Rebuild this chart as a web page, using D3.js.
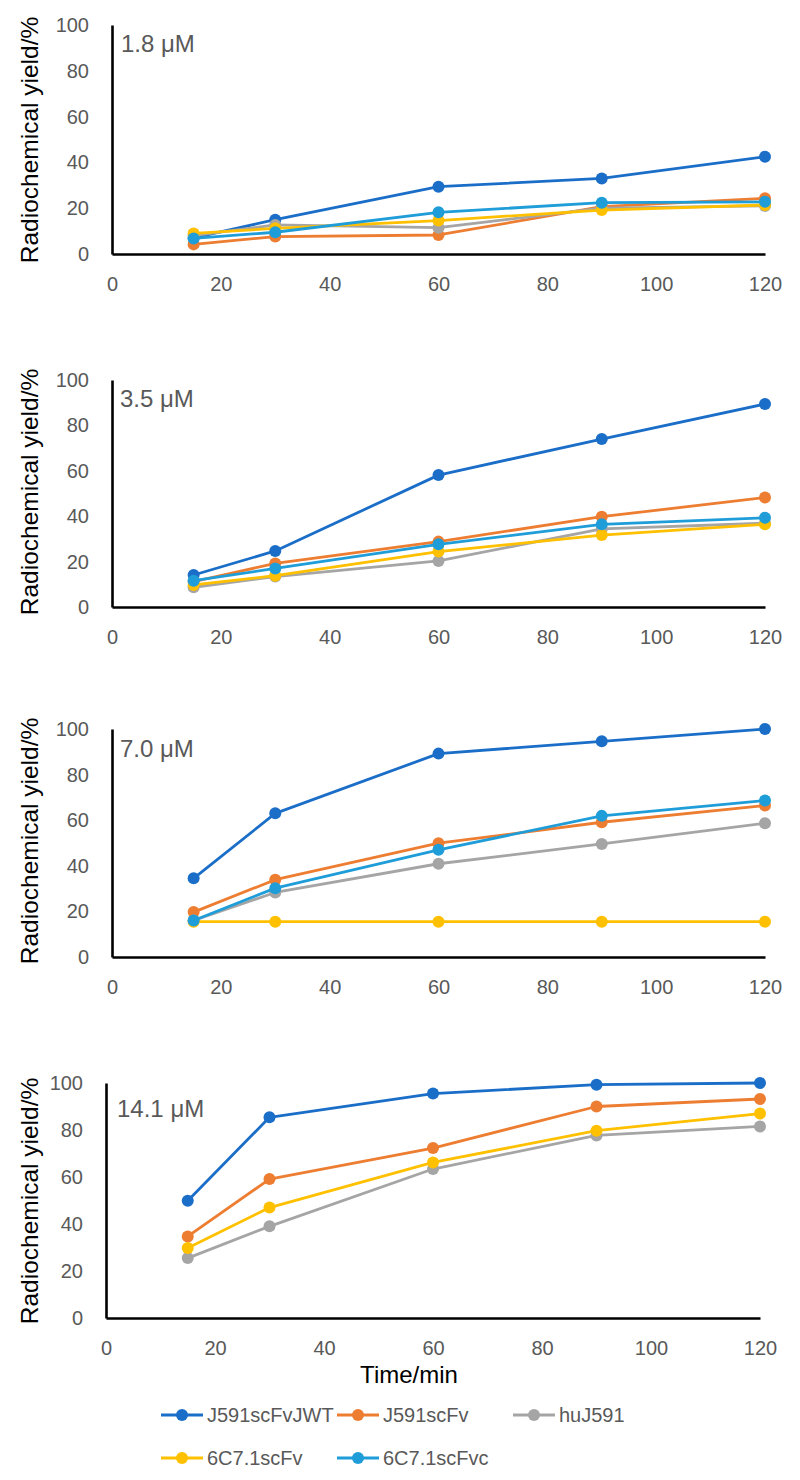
<!DOCTYPE html>
<html>
<head>
<meta charset="utf-8">
<script src="https://cdn.jsdelivr.net/npm/d3@7"></script>
<style>
  html, body { margin: 0; padding: 0; background: #fff; }
  svg { display: block; font-family: "Liberation Sans", Arial, sans-serif; }
</style>
</head>
<body>
<svg id="chart" width="800" height="1480"></svg>
<script>
// ---------- data ----------
const times = [15, 30, 60, 90, 120];
const concentrations = ["1.8 μM", "3.5 μM", "7.0 μM", "14.1 μM"];
const seriesNames = ["J591scFvJWT", "J591scFv", "huJ591", "6C7.1scFv", "6C7.1scFvc"];
const xTicks = [0, 20, 40, 60, 80, 100, 120];
const yTicks = [0, 20, 40, 60, 80, 100];
const xAxisTitle = "Time/min";
const yAxisTitle = "Radiochemical yield/%";

// one row per concentration panel (values at times above)
const J591scFvJWT = [
  [7, 15, 29.4, 33, 42.5],
  [14.1, 24.7, 58.1, 74, 89.4],
  [34.5, 63, 89.2, 94.6, 100],
  [49.9, 85.4, 95.5, 99.3, 100]
];
const J591scFv = [
  [4.2, 7.6, 8.3, 20.7, 24.3],
  [11.2, 19.2, 28.8, 39.8, 48.2],
  [19.7, 33.9, 49.9, 59.1, 66.4],
  [34.7, 59.1, 72.3, 90, 93.2]
];
const huJ591 = [
  [8, 12.7, 11.5, 20, 21],
  [8.7, 13.4, 20.3, 34.4, 36.9],
  [16, 28.3, 40.9, 49.6, 58.7],
  [25.5, 39, 63.4, 77.7, 81.5]
];
const scFv6C71 = [
  [9, 11.2, 14.6, 19.2, 21.4],
  [9.7, 13.8, 24.4, 31.7, 36.4],
  [15.5, 15.5, 15.5, 15.5, 15.5],
  [29.8, 47, 66.2, 79.7, 87]
];
const scFvc6C71 = [
  [6.8, 9.5, 18.2, 22.4, 22.8],
  [11.6, 17, 27.6, 36.4, 39.3],
  [16, 30.2, 47, 61.9, 68.6],
  null
];

// ---------- styles ----------
const seriesColors = ["#1B6EC8", "#ED7D31", "#A5A5A5", "#FFC000", "#1F9DD9"];
const seriesData = [J591scFvJWT, J591scFv, huJ591, scFv6C71, scFvc6C71];

// panel layout
const panels = [
  { top: 25,   bottom: 254,  left: 112, right: 765, lx: 121, ly: 52,   ycy: 140 },
  { top: 380,  bottom: 607,  left: 112, right: 765, lx: 120, ly: 407,  ycy: 492 },
  { top: 729,  bottom: 957,  left: 112, right: 765, lx: 120, ly: 757,  ycy: 841 },
  { top: 1083, bottom: 1318, left: 106, right: 760, lx: 117, ly: 1117, ycy: 1201 }
];

const svg = d3.select("#chart");
const tickColor = "#595959";

panels.forEach((p, pi) => {
  const x = d3.scaleLinear().domain([0, 120]).range([p.left, p.right]);
  const y = d3.scaleLinear().domain([0, 100]).range([p.bottom, p.top]);
  const g = svg.append("g");

  // y axis
  const ya = g.append("g")
    .attr("transform", `translate(${p.left},0)`)
    .call(d3.axisLeft(y).tickValues(yTicks).tickSize(0).tickPadding(23).tickFormat(d3.format("d")));
  ya.select(".domain").attr("stroke", "#000").attr("stroke-width", 2.6);
  ya.selectAll("text").attr("font-size", 20).attr("fill", tickColor)
    .attr("font-family", "'Liberation Sans', Arial, sans-serif");

  // x axis
  const xa = g.append("g")
    .attr("transform", `translate(0,${p.bottom})`)
    .call(d3.axisBottom(x).tickValues(xTicks).tickSize(0).tickPadding(23).tickFormat(d3.format("d")));
  xa.select(".domain").attr("stroke", "#000").attr("stroke-width", 2.6);
  xa.selectAll("text").attr("font-size", 20).attr("fill", tickColor)
    .attr("font-family", "'Liberation Sans', Arial, sans-serif");

  // y title
  g.append("text")
    .attr("transform", `translate(38,${p.ycy}) rotate(-90)`)
    .attr("text-anchor", "middle")
    .attr("font-size", 24.5)
    .attr("fill", "#000")
    .text(yAxisTitle);

  // concentration label
  g.append("text")
    .attr("x", p.lx).attr("y", p.ly)
    .attr("font-size", 24)
    .attr("fill", tickColor)
    .text(concentrations[pi]);

  // series
  const line = d3.line().x((d, i) => x(times[i])).y(d => y(d));
  seriesData.forEach((sd, si) => {
    const vals = sd[pi];
    if (!vals) return;
    g.append("path")
      .attr("d", line(vals))
      .attr("fill", "none")
      .attr("stroke", seriesColors[si])
      .attr("stroke-width", 2.8)
      .attr("stroke-linejoin", "round");
    g.selectAll(null).data(vals).enter().append("circle")
      .attr("cx", (d, i) => x(times[i]))
      .attr("cy", d => y(d))
      .attr("r", 6)
      .attr("fill", seriesColors[si]);
  });

  if (pi === panels.length - 1) {
    svg.append("text")
      .attr("x", 409).attr("y", 1383)
      .attr("text-anchor", "middle")
      .attr("font-size", 24)
      .attr("fill", "#000")
      .text(xAxisTitle);
  }
});

// legend
const legendPos = [
  { x: 161, y: 1415 }, { x: 337, y: 1415 }, { x: 513, y: 1415 },
  { x: 161, y: 1458 }, { x: 337, y: 1458 }
];
seriesNames.forEach((name, i) => {
  const lp = legendPos[i];
  const lg = svg.append("g").attr("transform", `translate(${lp.x},${lp.y})`);
  lg.append("line").attr("x1", 0).attr("x2", 42).attr("y1", 0).attr("y2", 0)
    .attr("stroke", seriesColors[i]).attr("stroke-width", 2.8);
  lg.append("circle").attr("cx", 21).attr("cy", 0).attr("r", 6).attr("fill", seriesColors[i]);
  lg.append("text").attr("x", 46).attr("y", 0).attr("dy", "0.35em")
    .attr("font-size", 20).attr("fill", tickColor).text(name);
});
</script>
</body>
</html>
